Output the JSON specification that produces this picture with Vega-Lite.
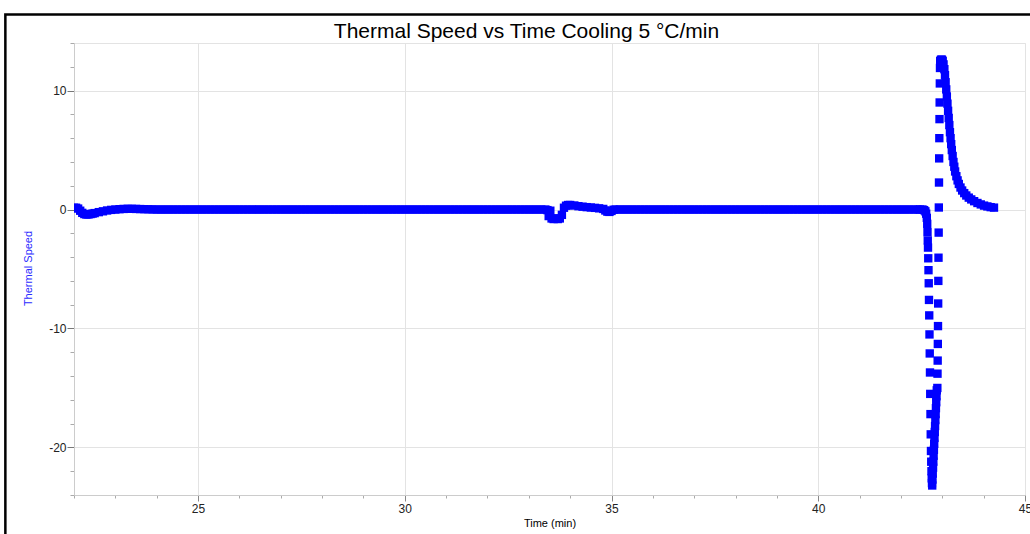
{
  "$schema": "https://vega.github.io/schema/vega-lite/v6.json",
  "autosize": {"type": "none"},
  "padding": {"left": 74, "top": 43, "right": 5, "bottom": 39},
  "width": 951,
  "height": 452,
  "background": "white",
  "config": {
    "font": "Liberation Sans",
    "view": {"stroke": "#e3e3e3"},
    "axis": {"labelOverlap": false, "labelFlush": false}
  },
  "title": {
    "text": "Thermal Speed vs Time Cooling 5 °C/min",
    "font": "Liberation Sans",
    "fontSize": 21,
    "fontWeight": "normal",
    "color": "#000000",
    "anchor": "middle",
    "baseline": "middle",
    "dx": -23,
    "dy": 40,
    "offset": 0
  },
  "layer": [
    {
      "data": {"values": [
        {"time":22.00,"speed":0.15},{"time":22.05,"speed":0.15},{"time":22.10,"speed":0.08},{"time":22.15,"speed":-0.1},
        {"time":22.20,"speed":-0.28},{"time":22.25,"speed":-0.38},{"time":22.30,"speed":-0.42},{"time":22.35,"speed":-0.41},
        {"time":22.40,"speed":-0.38},{"time":22.45,"speed":-0.34},{"time":22.50,"speed":-0.3},{"time":22.60,"speed":-0.22},
        {"time":22.70,"speed":-0.15},{"time":22.80,"speed":-0.08},{"time":22.90,"speed":-0.03},{"time":23.00,"speed":0.0},
        {"time":23.10,"speed":0.03},{"time":23.20,"speed":0.05},{"time":23.30,"speed":0.06},{"time":23.40,"speed":0.06},
        {"time":23.50,"speed":0.05},{"time":23.60,"speed":0.04},{"time":23.70,"speed":0.03},{"time":23.80,"speed":0.02},
        {"time":23.90,"speed":0.01},
        {"time":24.0,"speed":0},{"time":24.1,"speed":0},{"time":24.2,"speed":0},{"time":24.3,"speed":0},{"time":24.4,"speed":0},
        {"time":24.5,"speed":0},{"time":24.6,"speed":0},{"time":24.7,"speed":0},{"time":24.8,"speed":0},{"time":24.9,"speed":0},
        {"time":25.0,"speed":0},{"time":25.1,"speed":0},{"time":25.2,"speed":0},{"time":25.3,"speed":0},{"time":25.4,"speed":0},
        {"time":25.5,"speed":0},{"time":25.6,"speed":0},{"time":25.7,"speed":0},{"time":25.8,"speed":0},{"time":25.9,"speed":0},
        {"time":26.0,"speed":0},{"time":26.1,"speed":0},{"time":26.2,"speed":0},{"time":26.3,"speed":0},{"time":26.4,"speed":0},
        {"time":26.5,"speed":0},{"time":26.6,"speed":0},{"time":26.7,"speed":0},{"time":26.8,"speed":0},{"time":26.9,"speed":0},
        {"time":27.0,"speed":0},{"time":27.1,"speed":0},{"time":27.2,"speed":0},{"time":27.3,"speed":0},{"time":27.4,"speed":0},
        {"time":27.5,"speed":0},{"time":27.6,"speed":0},{"time":27.7,"speed":0},{"time":27.8,"speed":0},{"time":27.9,"speed":0},
        {"time":28.0,"speed":0},{"time":28.1,"speed":0},{"time":28.2,"speed":0},{"time":28.3,"speed":0},{"time":28.4,"speed":0},
        {"time":28.5,"speed":0},{"time":28.6,"speed":0},{"time":28.7,"speed":0},{"time":28.8,"speed":0},{"time":28.9,"speed":0},
        {"time":29.0,"speed":0},{"time":29.1,"speed":0},{"time":29.2,"speed":0},{"time":29.3,"speed":0},{"time":29.4,"speed":0},
        {"time":29.5,"speed":0},{"time":29.6,"speed":0},{"time":29.7,"speed":0},{"time":29.8,"speed":0},{"time":29.9,"speed":0},
        {"time":30.0,"speed":0},{"time":30.1,"speed":0},{"time":30.2,"speed":0},{"time":30.3,"speed":0},{"time":30.4,"speed":0},
        {"time":30.5,"speed":0},{"time":30.6,"speed":0},{"time":30.7,"speed":0},{"time":30.8,"speed":0},{"time":30.9,"speed":0},
        {"time":31.0,"speed":0},{"time":31.1,"speed":0},{"time":31.2,"speed":0},{"time":31.3,"speed":0},{"time":31.4,"speed":0},
        {"time":31.5,"speed":0},{"time":31.6,"speed":0},{"time":31.7,"speed":0},{"time":31.8,"speed":0},{"time":31.9,"speed":0},
        {"time":32.0,"speed":0},{"time":32.1,"speed":0},{"time":32.2,"speed":0},{"time":32.3,"speed":0},{"time":32.4,"speed":0},
        {"time":32.5,"speed":0},{"time":32.6,"speed":0},{"time":32.7,"speed":0},{"time":32.8,"speed":0},{"time":32.9,"speed":0},
        {"time":33.0,"speed":0},{"time":33.1,"speed":0},{"time":33.2,"speed":0},{"time":33.3,"speed":0},{"time":33.4,"speed":0},
        {"time":33.45,"speed":-0.05},{"time":33.48,"speed":-0.55},{"time":33.52,"speed":-0.1},{"time":33.55,"speed":-0.75},
        {"time":33.60,"speed":-0.8},{"time":33.65,"speed":-0.75},{"time":33.70,"speed":-0.8},{"time":33.75,"speed":-0.75},
        {"time":33.80,"speed":-0.45},{"time":33.85,"speed":0.15},{"time":33.90,"speed":0.32},{"time":33.95,"speed":0.38},
        {"time":34.00,"speed":0.38},{"time":34.10,"speed":0.34},{"time":34.20,"speed":0.28},{"time":34.30,"speed":0.24},
        {"time":34.40,"speed":0.2},{"time":34.50,"speed":0.17},{"time":34.60,"speed":0.14},{"time":34.70,"speed":0.1},
        {"time":34.80,"speed":0.05},{"time":34.85,"speed":-0.08},{"time":34.90,"speed":-0.18},{"time":34.95,"speed":-0.2},
        {"time":35.00,"speed":-0.12},{"time":35.05,"speed":-0.02},
        {"time":35.1,"speed":0},{"time":35.2,"speed":0},{"time":35.3,"speed":0},{"time":35.4,"speed":0},{"time":35.5,"speed":0},
        {"time":35.6,"speed":0},{"time":35.7,"speed":0},{"time":35.8,"speed":0},{"time":35.9,"speed":0},{"time":36.0,"speed":0},
        {"time":36.1,"speed":0},{"time":36.2,"speed":0},{"time":36.3,"speed":0},{"time":36.4,"speed":0},{"time":36.5,"speed":0},
        {"time":36.6,"speed":0},{"time":36.7,"speed":0},{"time":36.8,"speed":0},{"time":36.9,"speed":0},{"time":37.0,"speed":0},
        {"time":37.1,"speed":0},{"time":37.2,"speed":0},{"time":37.3,"speed":0},{"time":37.4,"speed":0},{"time":37.5,"speed":0},
        {"time":37.6,"speed":0},{"time":37.7,"speed":0},{"time":37.8,"speed":0},{"time":37.9,"speed":0},{"time":38.0,"speed":0},
        {"time":38.1,"speed":0},{"time":38.2,"speed":0},{"time":38.3,"speed":0},{"time":38.4,"speed":0},{"time":38.5,"speed":0},
        {"time":38.6,"speed":0},{"time":38.7,"speed":0},{"time":38.8,"speed":0},{"time":38.9,"speed":0},{"time":39.0,"speed":0},
        {"time":39.1,"speed":0},{"time":39.2,"speed":0},{"time":39.3,"speed":0},{"time":39.4,"speed":0},{"time":39.5,"speed":0},
        {"time":39.6,"speed":0},{"time":39.7,"speed":0},{"time":39.8,"speed":0},{"time":39.9,"speed":0},{"time":40.0,"speed":0},
        {"time":40.1,"speed":0},{"time":40.2,"speed":0},{"time":40.3,"speed":0},{"time":40.4,"speed":0},{"time":40.5,"speed":0},
        {"time":40.6,"speed":0},{"time":40.7,"speed":0},{"time":40.8,"speed":0},{"time":40.9,"speed":0},{"time":41.0,"speed":0},
        {"time":41.1,"speed":0},{"time":41.2,"speed":0},{"time":41.3,"speed":0},{"time":41.4,"speed":0},{"time":41.5,"speed":0},
        {"time":41.6,"speed":0},{"time":41.7,"speed":0},{"time":41.8,"speed":0},{"time":41.9,"speed":0},{"time":42.0,"speed":0},
        {"time":42.1,"speed":0},{"time":42.2,"speed":0},{"time":42.3,"speed":0},{"time":42.4,"speed":0},{"time":42.46,"speed":0},
        {"time":42.52,"speed":0},{"time":42.56,"speed":-0.05},{"time":42.59,"speed":-0.15},{"time":42.61,"speed":-0.35},
        {"time":42.625,"speed":-0.7},{"time":42.635,"speed":-1.2},{"time":42.642,"speed":-1.9},{"time":42.648,"speed":-2.6},
        {"time":42.654,"speed":-3.2},{"time":42.660,"speed":-4.1},{"time":42.666,"speed":-5.1},{"time":42.672,"speed":-6.2},
        {"time":42.678,"speed":-7.6},{"time":42.684,"speed":-8.9},{"time":42.690,"speed":-10.5},{"time":42.696,"speed":-12.1},
        {"time":42.702,"speed":-13.7},{"time":42.708,"speed":-15.5},{"time":42.714,"speed":-17.2},{"time":42.720,"speed":-18.9},
        {"time":42.726,"speed":-20.3},{"time":42.732,"speed":-21.2},{"time":42.738,"speed":-22.0},{"time":42.744,"speed":-22.6},
        {"time":42.750,"speed":-23.0},{"time":42.756,"speed":-23.2},
        {"time":42.762,"speed":-22.7},{"time":42.769,"speed":-22.2},{"time":42.776,"speed":-21.7},{"time":42.783,"speed":-21.2},
        {"time":42.790,"speed":-20.7},{"time":42.797,"speed":-20.2},{"time":42.804,"speed":-19.7},{"time":42.811,"speed":-19.2},
        {"time":42.818,"speed":-18.7},{"time":42.825,"speed":-18.2},{"time":42.832,"speed":-17.7},{"time":42.839,"speed":-17.2},
        {"time":42.846,"speed":-16.7},{"time":42.853,"speed":-16.2},{"time":42.860,"speed":-15.7},{"time":42.866,"speed":-15.2},
        {"time":42.880,"speed":-15.0},{"time":42.884,"speed":-13.8},{"time":42.888,"speed":-12.7},{"time":42.892,"speed":-11.3},
        {"time":42.896,"speed":-9.8},{"time":42.900,"speed":-7.9},{"time":42.904,"speed":-6.0},{"time":42.908,"speed":-4.05},
        {"time":42.912,"speed":-1.94},{"time":42.916,"speed":0.17},{"time":42.920,"speed":2.27},{"time":42.924,"speed":4.3},
        {"time":42.928,"speed":6.0},{"time":42.932,"speed":7.6},{"time":42.936,"speed":9.0},{"time":42.940,"speed":10.6},
        {"time":42.944,"speed":11.9},{"time":42.948,"speed":12.5},
        {"time":42.97,"speed":12.6},{"time":42.99,"speed":12.6},{"time":43.01,"speed":12.5},{"time":43.03,"speed":12.2},
        {"time":43.05,"speed":11.8},{"time":43.065,"speed":11.3},{"time":43.08,"speed":10.7},{"time":43.095,"speed":10.1},
        {"time":43.11,"speed":9.5},{"time":43.125,"speed":8.9},{"time":43.14,"speed":8.3},{"time":43.155,"speed":7.7},
        {"time":43.17,"speed":7.1},{"time":43.185,"speed":6.5},{"time":43.20,"speed":6.0},{"time":43.215,"speed":5.5},
        {"time":43.23,"speed":5.0},{"time":43.25,"speed":4.5},{"time":43.27,"speed":4.0},{"time":43.29,"speed":3.6},
        {"time":43.31,"speed":3.2},{"time":43.34,"speed":2.8},{"time":43.37,"speed":2.45},{"time":43.40,"speed":2.15},
        {"time":43.44,"speed":1.85},{"time":43.48,"speed":1.6},{"time":43.53,"speed":1.38},{"time":43.58,"speed":1.18},
        {"time":43.64,"speed":1.0},{"time":43.70,"speed":0.85},{"time":43.77,"speed":0.7},{"time":43.85,"speed":0.55},
        {"time":43.93,"speed":0.43},{"time":44.01,"speed":0.33},{"time":44.09,"speed":0.26},{"time":44.17,"speed":0.2},
        {"time":44.25,"speed":0.16}
      ]},
      "mark": {"type": "point", "shape": "square", "filled": true, "size": 70, "color": "#0000ff", "opacity": 1, "clip": true},
      "encoding": {
        "x": {
          "field": "time", "type": "quantitative",
          "scale": {"domain": [22, 45], "nice": false, "zero": false},
          "axis": {
            "title": "Time (min)",
            "titleFont": "Liberation Sans",
            "titleFontSize": 11,
            "titleFontWeight": "normal",
            "titleColor": "#000000",
            "titleBaseline": "middle",
            "titleY": 28,
            "tickCount": 60,
            "values": [22,23,24,25,26,27,28,29,30,31,32,33,34,35,36,37,38,39,40,41,42,43,44,45],
            "labelExpr": "abs(datum.value % 5) < 0.01 ? '' + datum.value : ''",
            "labelFlush": false,
            "labelOverlap": false,
            "labelFontSize": 12,
            "labelColor": "#222222",
            "labelPadding": 2,
            "tickSize": {"condition": {"test": "abs(datum.value % 5) < 0.01", "value": 6}, "value": 3},
            "tickColor": {"condition": {"test": "abs(datum.value % 5) < 0.01", "value": "#888888"}, "value": "#aaaaaa"},
            "gridOpacity": {"condition": {"test": "abs(datum.value % 5) < 0.01", "value": 1}, "value": 0},
            "gridColor": "#e3e3e3",
            "domainColor": "#cccccc"
          }
        },
        "y": {
          "field": "speed", "type": "quantitative",
          "scale": {"domain": [-24, 14], "nice": false, "zero": false},
          "axis": {
            "title": "Thermal Speed",
            "titleFont": "Liberation Sans",
            "titleFontSize": 11,
            "titleFontWeight": "normal",
            "titleColor": "#2b2bff",
            "titleBaseline": "middle",
            "titleAlign": "center",
            "titleAngle": -90,
            "titleX": -46,
            "titleY": 225,
            "tickCount": 60,
            "values": [-24,-22,-20,-18,-16,-14,-12,-10,-8,-6,-4,-2,0,2,4,6,8,10,12,14],
            "labelExpr": "abs(datum.value % 10) < 0.01 ? '' + datum.value : ''",
            "labelOverlap": false,
            "labelFlush": false,
            "labelFontSize": 12,
            "labelColor": "#222222",
            "labelPadding": 1,
            "tickSize": {"condition": {"test": "abs(datum.value % 10) < 0.01", "value": 7}, "value": 4},
            "tickColor": {"condition": {"test": "abs(datum.value % 10) < 0.01", "value": "#777777"}, "value": "#aaaaaa"},
            "gridOpacity": {"condition": {"test": "abs(datum.value % 10) < 0.01", "value": 1}, "value": 0},
            "gridColor": "#e3e3e3",
            "domainColor": "#cccccc"
          }
        }
      }
    },
    {
      "data": {"values": [{}]},
      "mark": {"type": "rect", "filled": false, "stroke": "#000000", "strokeWidth": 2.5, "clip": false},
      "encoding": {
        "x": {"datum": 20.34, "type": "quantitative"},
        "x2": {"datum": 47},
        "y": {"datum": 16.4, "type": "quantitative"},
        "y2": {"datum": -30}
      }
    }
  ]
}
